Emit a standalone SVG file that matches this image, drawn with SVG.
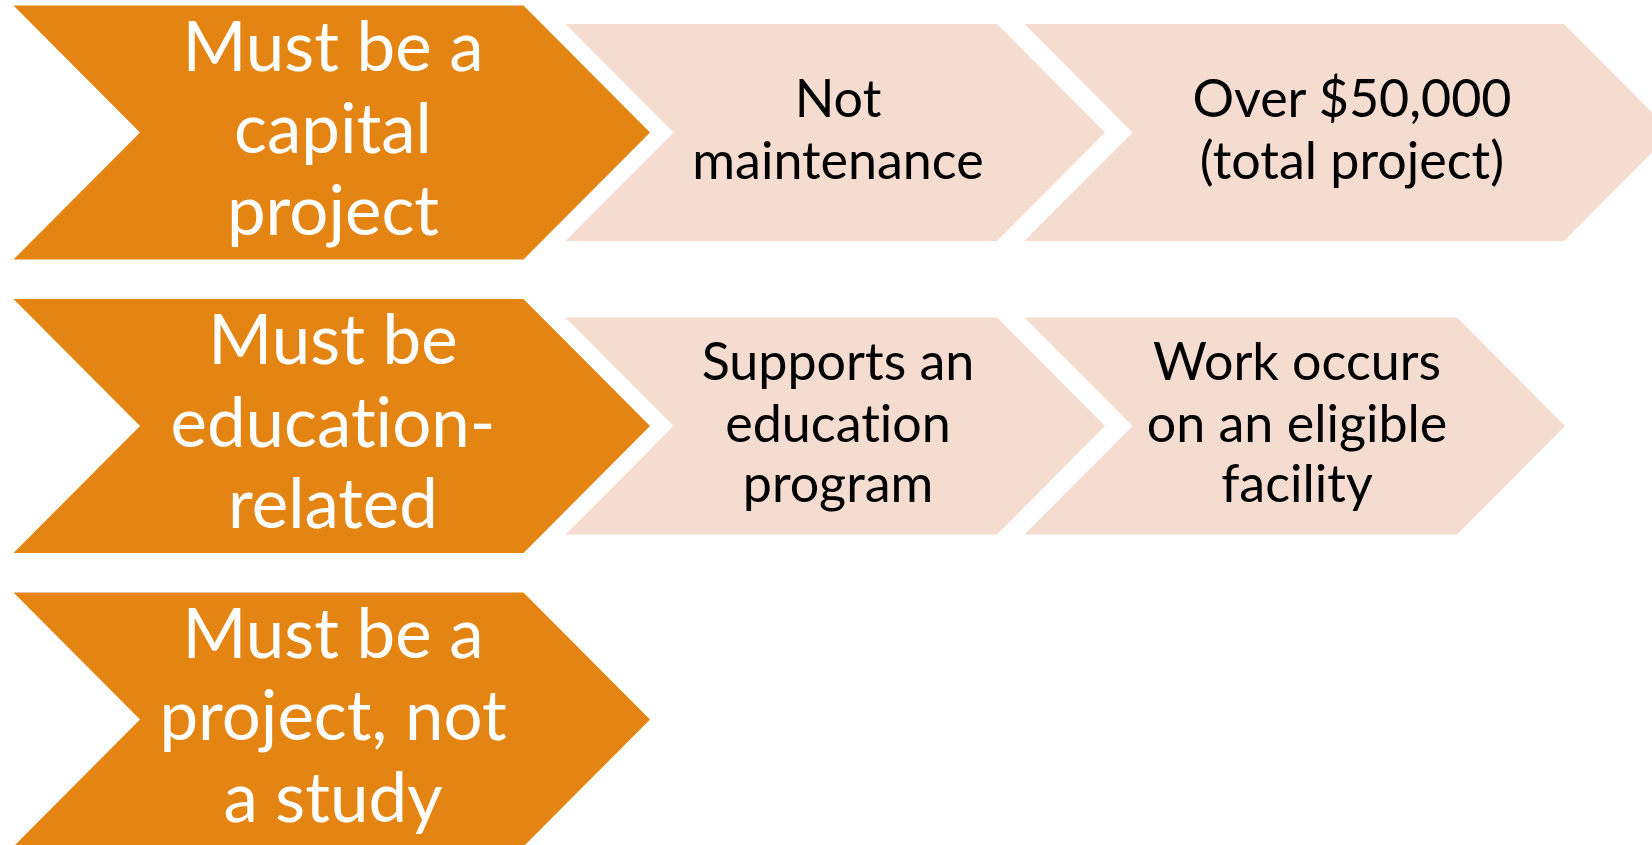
<svg xmlns="http://www.w3.org/2000/svg" width="1652" height="845" viewBox="0 0 1652 845">
  <style>
    .main { fill: #E38413; }
    .sub { fill: #F4DCD1; }
    text { font-family: Lato, "Open Sans", sans-serif; text-anchor: middle; font-variant-ligatures: none; }
    .main-text { font-size: 69px; fill: #FFFFFF; }
    .sub-text { font-size: 52px; fill: #000000; }
  </style>
  <rect width="1652" height="845" fill="#FFFFFF"/>

  <!-- Row 1 -->
  <g id="capital-project">
    <polygon class="main" points="13.5,5.5 523.5,5.5 650,132.5 523.5,259.5 13.5,259.5 140,132.5"/>
    <text class="main-text" x="333" y="70.7">Must be a</text>
    <text class="main-text" x="333" y="153.3">capital</text>
    <text class="main-text" x="333" y="235">project</text>
  </g>
  <g id="not-maintenance">
    <polygon class="sub" points="565.5,24 997,24 1105,132.5 997,241 565.5,241 673.5,132.5"/>
    <text class="sub-text" x="838" y="117.3">Not</text>
    <text class="sub-text" x="838" y="179">maintenance</text>
  </g>
  <g id="over-50000">
    <polygon class="sub" points="1024.5,24 1564,24 1672,132.5 1564,241 1024.5,241 1132.5,132.5"/>
    <text class="sub-text" x="1352" y="117.3">Over $50,000</text>
    <text class="sub-text" x="1352" y="179">(total project)</text>
  </g>

  <!-- Row 2 -->
  <g id="education-related">
    <polygon class="main" points="13.5,299 523.5,299 650,426 523.5,553 13.5,553 140,426"/>
    <text class="main-text" x="333" y="364.3">Must be</text>
    <text class="main-text" x="333" y="446.7">education-</text>
    <text class="main-text" x="333" y="528.3">related</text>
  </g>
  <g id="supports-program">
    <polygon class="sub" points="565.5,317.5 997,317.5 1105,426 997,534.5 565.5,534.5 673.5,426"/>
    <text class="sub-text" x="838" y="380">Supports an</text>
    <text class="sub-text" x="838" y="441.7">education</text>
    <text class="sub-text" x="838" y="501.7">program</text>
  </g>
  <g id="eligible-facility">
    <polygon class="sub" points="1024.5,317.5 1457,317.5 1565,426 1457,534.5 1024.5,534.5 1132.5,426"/>
    <text class="sub-text" x="1297" y="380">Work occurs</text>
    <text class="sub-text" x="1297" y="441.7">on an eligible</text>
    <text class="sub-text" x="1297" y="501.7">facility</text>
  </g>

  <!-- Row 3 -->
  <g id="project-not-study">
    <polygon class="main" points="13.5,592.5 523.5,592.5 650,719.5 523.5,846.5 13.5,846.5 140,719.5"/>
    <text class="main-text" x="333" y="658.3">Must be a</text>
    <text class="main-text" x="333" y="740">project, not</text>
    <text class="main-text" x="333" y="822.3">a study</text>
  </g>

  <g id="connectors"/>
</svg>
